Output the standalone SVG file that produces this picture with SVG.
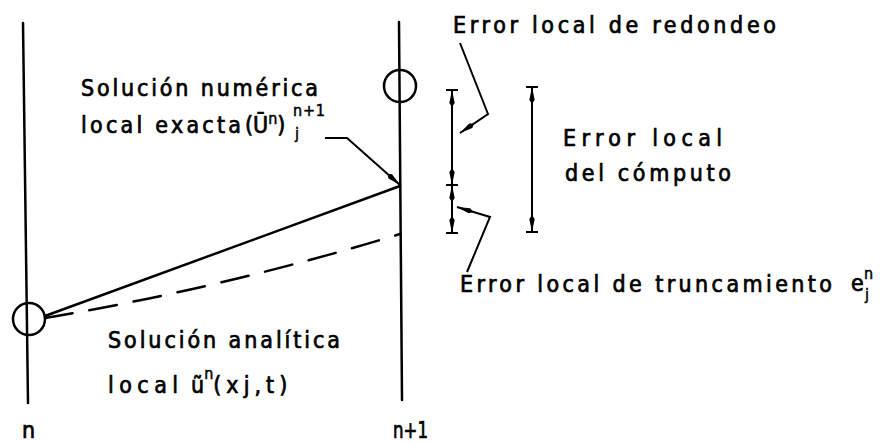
<svg xmlns="http://www.w3.org/2000/svg" width="880" height="443" viewBox="0 0 880 443">
<style>
  .ln { stroke:#000; stroke-width:2.5; fill:none; stroke-linecap:round; }
  .thin { stroke:#000; stroke-width:2; fill:none; }
  .t { font-family:"DejaVu Sans Condensed","DejaVu Sans",sans-serif; font-size:23px; fill:#000; stroke:#000; stroke-width:0.7; }
  .s { font-family:"DejaVu Sans Condensed","DejaVu Sans",sans-serif; font-size:16px; fill:#000; stroke:#000; stroke-width:0.5; }
</style>
<defs>
  <marker id="ah" markerUnits="userSpaceOnUse" markerWidth="18" markerHeight="8" refX="17" refY="4" orient="auto-start-reverse" viewBox="0 0 18 8">
    <path d="M0,4 L4,1.3 L17,4 L4,6.7 Z" fill="#000"/>
  </marker>
</defs>
<rect width="880" height="443" fill="#fff"/>

<g id="axis-n">
  <line class="ln" x1="23" y1="23" x2="28" y2="403"/>
  <text class="t" x="22" y="438" font-size="21">n</text>
</g>
<g id="axis-n1">
  <line class="ln" x1="399" y1="22" x2="402" y2="400"/>
  <text class="t" x="393" y="438" font-size="21" textLength="35" lengthAdjust="spacingAndGlyphs">n+1</text>
</g>
<g id="point-n">
  <circle class="ln" cx="29" cy="319" r="16"/>
</g>
<g id="point-n1">
  <circle class="ln" cx="400" cy="86" r="16"/>
</g>

<g id="connectors">
  <line class="ln" x1="45" y1="316" x2="400" y2="186"/>
  <path class="ln" d="M45,318 Q223,288 400,234" stroke-dasharray="28 17" stroke-linecap="butt"/>
  <polyline class="thin" points="325,138 347,138 400,185" marker-end="url(#ah)"/>
  <polyline class="thin" points="460,43 488,114 460,133" marker-end="url(#ah)"/>
  <polyline class="thin" points="467,272 490,217 457,207" marker-end="url(#ah)"/>
  <!-- left dimension bar -->
  <line class="thin" x1="452" y1="90" x2="452" y2="185" marker-start="url(#ah)" marker-end="url(#ah)"/>
  <line class="thin" x1="452" y1="185" x2="452" y2="233" marker-start="url(#ah)" marker-end="url(#ah)"/>
  <line class="thin" x1="446" y1="90" x2="458" y2="90"/>
  <line class="thin" x1="446" y1="185" x2="458" y2="185"/>
  <line class="thin" x1="446" y1="233" x2="458" y2="233"/>
  <!-- right dimension bar -->
  <line class="thin" x1="532" y1="87" x2="532" y2="232" marker-start="url(#ah)" marker-end="url(#ah)"/>
  <line class="thin" x1="526" y1="87" x2="538" y2="87"/>
  <line class="thin" x1="526" y1="232" x2="538" y2="232"/>
</g>

<g id="label-numerica">
  <text class="t" x="81" y="96" textLength="237" lengthAdjust="spacing">Solución numérica</text>
  <text class="t" x="81" y="133" textLength="160" lengthAdjust="spacing">local exacta</text>
  <text class="t" x="245" y="133">(Ū<tspan class="s" dy="-9">n</tspan><tspan dy="9">)</tspan></text>
  <text class="s" x="293" y="116" textLength="32" lengthAdjust="spacing">n+1</text>
  <text class="s" x="295" y="139">j</text>
</g>
<g id="label-redondeo">
  <text class="t" x="453" y="33" textLength="323" lengthAdjust="spacing">Error local de redondeo</text>
</g>
<g id="label-computo">
  <text class="t" x="563" y="146" textLength="159" lengthAdjust="spacing">Error local</text>
  <text class="t" x="565" y="181" textLength="166" lengthAdjust="spacing">del cómputo</text>
</g>
<g id="label-truncamiento">
  <text class="t" x="460" y="292" textLength="372" lengthAdjust="spacing">Error local de truncamiento</text>
  <text class="t" x="851" y="291">e</text>
  <text class="s" x="864" y="279" font-size="14">n</text>
  <text class="s" x="865" y="300" font-size="15">j</text>
</g>
<g id="label-analitica">
  <text class="t" x="108" y="348" textLength="232" lengthAdjust="spacing">Solución analítica</text>
  <text class="t" x="108" y="393" textLength="70" lengthAdjust="spacing">local</text>
  <text class="t" x="191" y="393">ũ<tspan class="s" dy="-14">n</tspan><tspan dy="14" textLength="74" lengthAdjust="spacing">(xj,t)</tspan></text>
</g>
</svg>
